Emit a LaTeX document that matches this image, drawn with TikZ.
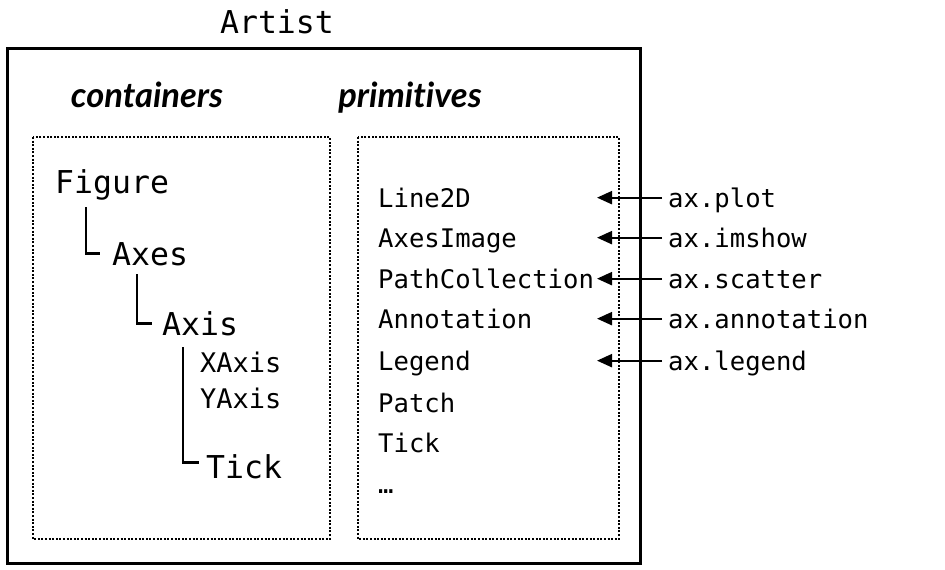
\documentclass[tikz,border=0pt]{standalone}
\usepackage{fontspec}
\setmonofont{DejaVu Sans Mono}
\newfontfamily\headfont{Lato}[Ligatures=NoCommon]
\usetikzlibrary{arrows.meta}
\begin{document}
\begin{tikzpicture}[x=1pt,y=-1pt,
  big/.style={font=\ttfamily\fontsize{31.5}{31.5}\selectfont, inner sep=0pt, anchor=base west, text height=23pt, text depth=0pt},
  mid/.style={font=\ttfamily\fontsize{27}{27}\selectfont, inner sep=0pt, anchor=base west, text height=19.7pt, text depth=0pt},
  item/.style={font=\ttfamily\fontsize{25.6}{25.6}\selectfont, inner sep=0pt, anchor=base west, text height=18.7pt, text depth=0pt},
  head/.style={font=\headfont\bfseries\itshape\fontsize{34.5}{34.5}\selectfont, inner sep=0pt, anchor=base},
  tree/.style={line width=2.4pt},
  arr/.style={line width=2.2pt, -{Triangle[length=15pt,width=13pt]}},
  dotbox/.style={line width=2pt, dash pattern=on 2pt off 1.6pt},
  outer/.style={line width=3pt}]
\useasboundingbox (0,0) rectangle (945,570);
\fill[white] (0,0) rectangle (945,570);

\node[font=\ttfamily\fontsize{31.5}{31.5}\selectfont, inner sep=0pt, anchor=base] (title) at (277,33) {Artist};
\draw[outer] (7,48) rectangle (640,563);

\node[head] (cont) at (147,107) {containers};
\node[head] (prim) at (410,107) {primitives};

\draw[dotbox] (33,137) rectangle (330,539);
\draw[dotbox] (358,137) rectangle (619,539);

% tree
\node[big] (fig) at (55,193) {Figure};
\node[big] (axes) at (112,265) {Axes};
\node[big] (axis) at (162,335) {Axis};
\node[mid] (xaxis) at (200,372) {XAxis};
\node[mid] (yaxis) at (200,408) {YAxis};
\node[big] (tick) at (206,478) {Tick};

\draw[tree] ([xshift=31pt,yshift=-14pt]fig.south west) |- ([xshift=-12pt]axes.west);
\draw[tree] ([xshift=25pt,yshift=-9pt]axes.south west) |- ([xshift=-10pt]axis.west);
\draw[tree] ([xshift=21pt,yshift=-12pt]axis.south west) |- ([xshift=-7pt,yshift=4pt]tick.west);

% primitives
\node[item] (line) at (378,207) {Line2D};
\node[item] (img) at (378,247) {AxesImage};
\node[item] (pc) at (378,288) {PathCollection};
\node[item] (ann) at (378,328) {Annotation};
\node[item] (leg) at (378,370) {Legend};
\node[item] (patch) at (378,412) {Patch};
\node[item] (ptick) at (378,452) {Tick};
\node[item] (dots) at (378,493) {…};

\node[item] (lplot) at (668,207) {ax.plot};
\node[item] (limg) at (668,247) {ax.imshow};
\node[item] (lsc) at (668,288) {ax.scatter};
\node[item] (lann) at (668,328) {ax.annotation};
\node[item] (lleg) at (668,370) {ax.legend};

\coordinate (tipcol) at (597,0);
\draw[arr] ([xshift=-6pt]lplot.west) -- (lplot.west -| tipcol);
\draw[arr] ([xshift=-6pt]limg.west) -- (limg.west -| tipcol);
\draw[arr] ([xshift=-6pt]lsc.west) -- (lsc.west -| tipcol);
\draw[arr] ([xshift=-6pt]lann.west) -- (lann.west -| tipcol);
\draw[arr] ([xshift=-6pt]lleg.west) -- (lleg.west -| tipcol);
\end{tikzpicture}
\end{document}
